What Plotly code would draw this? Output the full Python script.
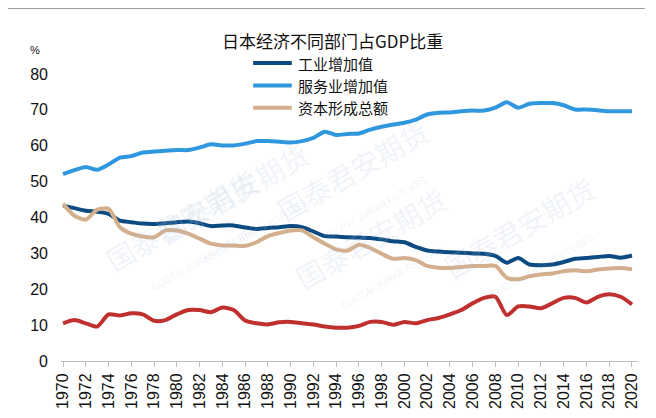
"""Japan: sector shares of GDP, 1970-2020 (Plotly recreation)."""

import plotly.graph_objects as go

YEARS = [
    1970, 1971, 1972, 1973, 1974, 1975, 1976, 1977, 1978, 1979,
    1980, 1981, 1982, 1983, 1984, 1985, 1986, 1987, 1988, 1989,
    1990, 1991, 1992, 1993, 1994, 1995, 1996, 1997, 1998, 1999,
    2000, 2001, 2002, 2003, 2004, 2005, 2006, 2007, 2008, 2009,
    2010, 2011, 2012, 2013, 2014, 2015, 2016, 2017, 2018, 2019, 2020,
]

# 工业增加值
INDUSTRY = [
    43.3, 42.6, 41.9, 41.6, 41.0, 39.1, 38.7, 38.3, 38.2, 38.4,
    38.7, 38.9, 38.4, 37.6, 37.8, 37.8, 37.2, 36.8, 37.1, 37.3,
    37.6, 37.3, 36.1, 34.8, 34.7, 34.5, 34.4, 34.3, 33.9, 33.4,
    33.1, 31.8, 30.8, 30.5, 30.3, 30.2, 30.0, 29.9, 29.3, 27.4,
    28.7, 26.9, 26.7, 26.9, 27.6, 28.5, 28.7, 29.0, 29.3, 28.8, 29.4,
]
# 服务业增加值
SERVICES = [
    52.1, 53.2, 54.1, 53.3, 54.8, 56.7, 57.1, 58.1, 58.4, 58.6,
    58.8, 58.8, 59.5, 60.4, 60.1, 60.1, 60.6, 61.3, 61.3, 61.1,
    60.9, 61.3, 62.2, 63.9, 63.0, 63.3, 63.4, 64.5, 65.3, 65.9,
    66.4, 67.3, 68.7, 69.2, 69.3, 69.6, 69.8, 69.8, 70.6, 72.1,
    70.6, 71.7, 71.9, 71.9, 71.3, 70.1, 70.1, 69.9, 69.6, 69.6, 69.6,
]
# 资本形成总额
CAPITAL = [
    43.8, 40.5, 39.4, 42.2, 42.4, 37.3, 35.5, 34.7, 34.5, 36.4,
    36.4, 35.5, 34.1, 32.7, 32.2, 32.2, 32.1, 33.1, 34.8, 35.7,
    36.4, 36.4, 34.5, 32.7, 31.1, 30.8, 32.4, 31.5, 29.9, 28.5,
    28.7, 28.1, 26.5, 26.0, 25.9, 26.2, 26.5, 26.5, 26.5, 23.2,
    22.8, 23.6, 24.1, 24.4, 25.0, 25.3, 25.0, 25.5, 25.8, 25.9, 25.6,
]
# fourth series (no legend entry in the source chart)
OTHER = [
    10.5, 11.4, 10.5, 9.6, 13.0, 12.7, 13.3, 13.0, 11.2, 11.4,
    13.0, 14.2, 14.2, 13.6, 14.9, 14.2, 11.3, 10.5, 10.2, 10.8,
    10.9, 10.5, 10.2, 9.6, 9.3, 9.3, 9.8, 10.9, 10.9, 10.1,
    10.9, 10.5, 11.4, 12.0, 13.0, 14.2, 16.1, 17.6, 17.9, 12.8,
    15.2, 15.2, 14.7, 16.1, 17.6, 17.6, 16.3, 17.9, 18.6, 17.9, 15.8,
]

X_TICKS = YEARS[::2]
Y_TICKS = [0, 10, 20, 30, 40, 50, 60, 70, 80]

DARK_BLUE = "#0C4A82"
LIGHT_BLUE = "#2F97DD"
TAN = "#D3AF8D"
RED = "#C0302F"
WATERMARK = "rgba(175,195,220,0.20)"

SANS = "Liberation Sans, Arial, sans-serif"
CJK = "Noto Sans CJK SC, sans-serif"

fig = go.Figure()

series = [
    ("工业增加值", INDUSTRY, DARK_BLUE, True),
    ("服务业增加值", SERVICES, LIGHT_BLUE, True),
    ("资本形成总额", CAPITAL, TAN, True),
    ("其他", OTHER, RED, False),
]
for name, values, color, _ in series:
    fig.add_trace(
        go.Scatter(
            x=YEARS,
            y=values,
            mode="lines",
            name=name,
            showlegend=False,
            line=dict(color=color, width=4, shape="spline", smoothing=0.7),
        )
    )

# hand-built legend (a real plotly legend above the plot pushes the margins)
legend_rows = [1.038, 0.960, 0.882]
for (name, _, color, in_legend), ly in zip(series, legend_rows):
    if not in_legend:
        continue
    fig.add_shape(
        type="line", xref="paper", yref="paper",
        x0=0.333, x1=0.400, y0=ly, y1=ly,
        line=dict(color=color, width=4),
    )
    fig.add_annotation(
        x=0.409, y=ly, xref="paper", yref="paper",
        text=name, showarrow=False, xanchor="left", yanchor="middle",
        borderpad=0,
        font=dict(family=CJK, size=15, color="#111111"),
    )

# faint company watermarks (rotated), drawn as text
for wx, wy in [(0.15, 0.80), (0.68, 0.62), (0.55, 0.12), (0.97, 0.42), (0.06, 0.18)]:
    fig.add_annotation(
        x=wx, y=wy, xref="paper", yref="paper",
        text="国泰君安期货<br><span style='font-size:10px'>GUOTAI JUNAN FUTURES</span>",
        showarrow=False, textangle=-30,
        font=dict(family=CJK, size=28, color=WATERMARK),
    )

fig.add_annotation(
    x=0.47, y=1.118, xref="paper", yref="paper",
    text="日本经济不同部门占GDP比重",
    showarrow=False, xanchor="center", yanchor="middle",
    borderpad=0,
    font=dict(family=CJK, size=17, color="#111111"),
)
fig.add_annotation(
    x=-0.045, y=1.084, xref="paper", yref="paper",
    text="%", showarrow=False, xanchor="center", yanchor="middle",
    font=dict(family=SANS, size=11, color="#111111"),
)
# thin rule along the top of the frame
fig.add_shape(
    type="line", xref="paper", yref="paper",
    x0=-0.1, x1=1.012, y0=1.228, y1=1.228,
    line=dict(color="#9a9a9a", width=1),
)

# the page body adds an 8px offset, so the figure is 8px smaller than the window
fig.update_layout(
    width=648,
    height=410,
    margin=dict(l=53, r=18, t=66, b=57),
    paper_bgcolor="white",
    plot_bgcolor="white",
    font=dict(family=SANS, size=16, color="#111111"),
    showlegend=False,
    xaxis=dict(
        range=[1969.82, 2020.53],
        tickmode="array",
        tickvals=X_TICKS,
        ticktext=[str(y) for y in X_TICKS],
        tickangle=-90,
        ticks="outside",
        ticklen=5,
        tickcolor="#bfbfbf",
        showline=True,
        linecolor="#bfbfbf",
        linewidth=1,
        showgrid=False,
        zeroline=False,
        automargin=False,
        tickfont=dict(family=SANS, size=16),
    ),
    yaxis=dict(
        range=[0, 80],
        tickmode="array",
        tickvals=Y_TICKS,
        showgrid=False,
        zeroline=False,
        showline=False,
        ticks="",
        automargin=False,
        ticklabelstandoff=12,
        tickfont=dict(family=SANS, size=16),
    ),
)

fig.write_html("out.html")
